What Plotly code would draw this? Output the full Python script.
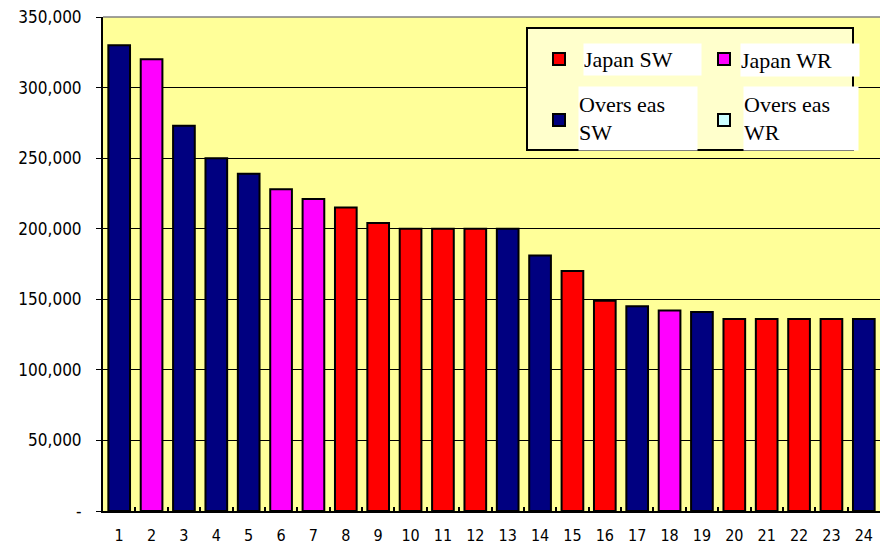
import plotly.graph_objects as go

categories = [str(i) for i in range(1, 25)]
values = [330000, 320000, 273000, 250000, 239000, 228000, 221000, 215000, 204000,
          200000, 200000, 200000, 200000, 181000, 170000, 149000, 145000, 142000,
          141000, 136000, 136000, 136000, 136000, 136000]
groups = ["OSW", "JWR", "OSW", "OSW", "OSW", "JWR", "JWR", "JSW", "JSW",
          "JSW", "JSW", "JSW", "OSW", "OSW", "JSW", "JSW", "OSW", "JWR",
          "OSW", "JSW", "JSW", "JSW", "JSW", "OSW"]
series_keys = ["JSW", "JWR", "OSW", "OWR"]
series_names = ["Japan SW", "Japan WR", "Overs eas<br>SW", "Overs eas<br>WR"]
series_colors = ["#FF0000", "#FF00FF", "#000080", "#CCFFFF"]
ytick_vals = [0, 50000, 100000, 150000, 200000, 250000, 300000, 350000]
ytick_text = ["-", "50,000", "100,000", "150,000", "200,000", "250,000", "300,000", "350,000"]

W, H = 884, 547
L, R, T, B = 103, 4, 17, 36
PW, PH = W - L - R, H - T - B


def px(x):
    return (x - L) / PW


def py(y):
    return (H - B - y) / PH


fig = go.Figure()
for key, name, color in zip(series_keys, series_names, series_colors):
    xs = [c for c, g in zip(categories, groups) if g == key]
    ys = [v for v, g in zip(values, groups) if g == key]
    fig.add_trace(go.Bar(x=xs, y=ys, name=name, marker=dict(color=color, line=dict(color="black", width=2)),
                         showlegend=False))

shapes = []
annotations = []
# legend box
shapes.append(dict(type="rect", xref="paper", yref="paper", x0=px(527), x1=px(853), y0=py(150), y1=py(28),
                   line=dict(color="black", width=2), fillcolor="#FFFFCC", layer="above"))
# top gray border
shapes.append(dict(type="line", xref="paper", yref="paper", x0=0, x1=1, y0=1, y1=1,
                   line=dict(color="#808080", width=1.5)))
entries = [
    (559, 59, 583, 700, 44, 75),
    (724, 59, 740, 858, 44, 76),
    (559, 120, 578, 696, 87, 150),
    (724, 120, 743, 857, 87, 150),
]
for (mx, my, bx0, bx1, by0, by1), name, color in zip(entries, series_names, series_colors):
    shapes.append(dict(type="rect", xref="paper", yref="paper", x0=px(mx - 6), x1=px(mx + 6),
                       y0=py(my + 6), y1=py(my - 6), line=dict(color="black", width=2),
                       fillcolor=color, layer="above"))
    annotations.append(dict(xref="paper", yref="paper", x=px(bx0), y=py((by0 + by1) / 2),
                            xanchor="left", yanchor="middle", text=name, showarrow=False,
                            bgcolor="white", width=bx1 - bx0, height=by1 - by0, align="left",
                            borderpad=0,
                            font=dict(family="Liberation Serif", size=22, color="black")))

fig.update_layout(
    width=W, height=H,
    margin=dict(l=L, r=R, t=T, b=B),
    paper_bgcolor="white", plot_bgcolor="#FFFF99",
    barmode="overlay", bargap=0.33,
    shapes=shapes, annotations=annotations,
    font=dict(family="DejaVu Sans Condensed", size=17, color="black"),
)
fig.update_xaxes(type="category", categoryorder="array", categoryarray=categories,
                 showline=True, linecolor="black", linewidth=2, automargin=False,
                 ticks="inside", tickson="boundaries", ticklen=4, tickcolor="black", tickwidth=1.5,
                 ticklabelstandoff=9, tickfont=dict(size=16), showgrid=False)
fig.update_yaxes(range=[0, 350000], tickvals=ytick_vals, ticktext=ytick_text,
                 showline=True, linecolor="black", linewidth=2, automargin=False,
                 ticks="outside", ticklen=5, tickcolor="black",
                 showgrid=True, gridcolor="black", gridwidth=1, zeroline=False,
                 ticklabelstandoff=11, tickfont=dict(size=17))

fig.write_html("out.html", config={"displayModeBar": False},
               post_script="document.body.style.margin='0px';")
